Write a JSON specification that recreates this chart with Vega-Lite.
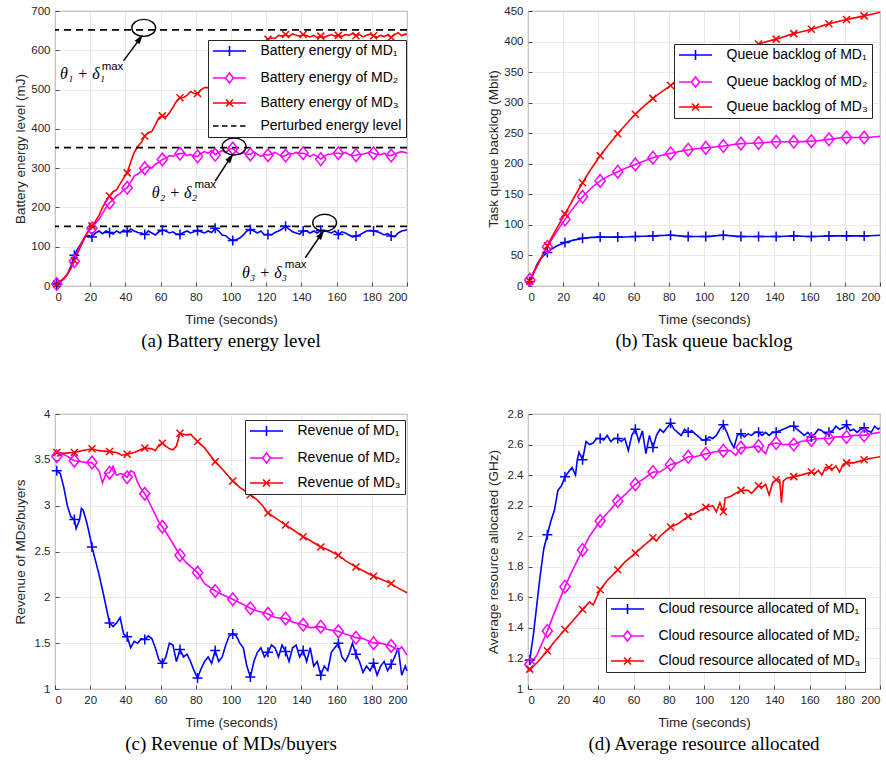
{
  "$schema": "https://vega.github.io/schema/vega-lite/v6.json",
  "background": "white",
  "padding": {"left": 12, "top": 4, "right": 4, "bottom": 4},
  "config": {
    "font": "Liberation Sans",
    "view": {"stroke": "#262626", "strokeWidth": 0.9},
    "axis": {"grid": true, "gridColor": "#e4e4e4", "gridWidth": 0.8, "domain": false, "ticks": true, "tickSize": -4, "tickColor": "#262626", "tickWidth": 0.8, "labelPadding": 9, "labelOverlap": false, "labelFont": "Liberation Sans", "labelFontSize": 11.5, "labelColor": "#262626", "titleFont": "Liberation Sans", "titleFontSize": 13.5, "titleFontWeight": "normal", "titleColor": "#262626"},
    "axisX": {"titlePadding": 10},
    "axisY": {"titlePadding": 3, "minExtent": 25, "maxExtent": 25},
    "legend": {"fillColor": "white", "strokeColor": "#262626", "padding": 4, "cornerRadius": 0, "labelFont": "Liberation Sans", "labelFontSize": 14, "labelColor": "black", "symbolSize": 100, "symbolStrokeWidth": 1.6, "symbolOffset": 10.5, "labelOffset": 24, "rowPadding": 9, "labelLimit": 400},
    "title": {"orient": "bottom", "anchor": "middle", "font": "Liberation Serif", "fontSize": 19, "fontWeight": "normal", "color": "black", "offset": 6}
  },
  "datasets": {
    "a": [
      {"s":"1","t":1,"v":5},{"s":"1","t":3,"v":12},{"s":"1","t":5,"v":18},{"s":"1","t":7,"v":30},{"s":"1","t":9,"v":50},{"s":"1","t":11,"v":78},{"s":"1","t":13,"v":95},{"s":"1","t":15,"v":110},{"s":"1","t":17,"v":125},{"s":"1","t":19,"v":128},
      {"s":"1","t":21,"v":125},{"s":"1","t":23,"v":135},{"s":"1","t":25,"v":140},{"s":"1","t":27,"v":133},{"s":"1","t":29,"v":140},{"s":"1","t":31,"v":136},{"s":"1","t":33,"v":132},{"s":"1","t":35,"v":140},{"s":"1","t":37,"v":135},{"s":"1","t":39,"v":142},
      {"s":"1","t":41,"v":138},{"s":"1","t":43,"v":145},{"s":"1","t":45,"v":140},{"s":"1","t":47,"v":136},{"s":"1","t":49,"v":135},{"s":"1","t":51,"v":131},{"s":"1","t":53,"v":140},{"s":"1","t":55,"v":135},{"s":"1","t":57,"v":130},{"s":"1","t":59,"v":138},
      {"s":"1","t":61,"v":142},{"s":"1","t":63,"v":140},{"s":"1","t":65,"v":135},{"s":"1","t":67,"v":138},{"s":"1","t":69,"v":132},{"s":"1","t":71,"v":131},{"s":"1","t":73,"v":136},{"s":"1","t":75,"v":140},{"s":"1","t":77,"v":135},{"s":"1","t":79,"v":138},
      {"s":"1","t":81,"v":141},{"s":"1","t":83,"v":138},{"s":"1","t":85,"v":135},{"s":"1","t":87,"v":140},{"s":"1","t":89,"v":136},{"s":"1","t":91,"v":147},{"s":"1","t":93,"v":140},{"s":"1","t":95,"v":130},{"s":"1","t":97,"v":128},{"s":"1","t":99,"v":120},
      {"s":"1","t":101,"v":116},{"s":"1","t":103,"v":118},{"s":"1","t":105,"v":122},{"s":"1","t":107,"v":130},{"s":"1","t":109,"v":140},{"s":"1","t":111,"v":144},{"s":"1","t":113,"v":140},{"s":"1","t":115,"v":135},{"s":"1","t":117,"v":140},{"s":"1","t":119,"v":130},
      {"s":"1","t":121,"v":131},{"s":"1","t":123,"v":130},{"s":"1","t":125,"v":136},{"s":"1","t":127,"v":140},{"s":"1","t":129,"v":145},{"s":"1","t":131,"v":152},{"s":"1","t":133,"v":145},{"s":"1","t":135,"v":138},{"s":"1","t":137,"v":135},{"s":"1","t":139,"v":132},
      {"s":"1","t":141,"v":140},{"s":"1","t":143,"v":140},{"s":"1","t":145,"v":135},{"s":"1","t":147,"v":140},{"s":"1","t":149,"v":135},{"s":"1","t":151,"v":141},{"s":"1","t":153,"v":142},{"s":"1","t":155,"v":138},{"s":"1","t":157,"v":135},{"s":"1","t":159,"v":140},
      {"s":"1","t":161,"v":131},{"s":"1","t":163,"v":138},{"s":"1","t":165,"v":135},{"s":"1","t":167,"v":130},{"s":"1","t":169,"v":125},{"s":"1","t":171,"v":127},{"s":"1","t":173,"v":130},{"s":"1","t":175,"v":135},{"s":"1","t":177,"v":140},{"s":"1","t":179,"v":142},
      {"s":"1","t":181,"v":140},{"s":"1","t":183,"v":138},{"s":"1","t":185,"v":135},{"s":"1","t":187,"v":130},{"s":"1","t":189,"v":133},{"s":"1","t":191,"v":127},{"s":"1","t":193,"v":125},{"s":"1","t":195,"v":135},{"s":"1","t":197,"v":140},{"s":"1","t":199,"v":142},{"s":"1","t":200,"v":143},
      {"s":"2","t":1,"v":5},{"s":"2","t":3,"v":10},{"s":"2","t":5,"v":18},{"s":"2","t":7,"v":30},{"s":"2","t":9,"v":45},{"s":"2","t":11,"v":63},{"s":"2","t":13,"v":90},{"s":"2","t":15,"v":108},{"s":"2","t":17,"v":125},{"s":"2","t":19,"v":140},
      {"s":"2","t":21,"v":147},{"s":"2","t":23,"v":160},{"s":"2","t":25,"v":170},{"s":"2","t":27,"v":185},{"s":"2","t":29,"v":200},{"s":"2","t":31,"v":212},{"s":"2","t":33,"v":220},{"s":"2","t":35,"v":230},{"s":"2","t":37,"v":235},{"s":"2","t":39,"v":245},
      {"s":"2","t":41,"v":250},{"s":"2","t":43,"v":265},{"s":"2","t":45,"v":280},{"s":"2","t":47,"v":285},{"s":"2","t":49,"v":292},{"s":"2","t":51,"v":300},{"s":"2","t":53,"v":305},{"s":"2","t":55,"v":300},{"s":"2","t":57,"v":310},{"s":"2","t":59,"v":315},
      {"s":"2","t":61,"v":322},{"s":"2","t":63,"v":325},{"s":"2","t":65,"v":332},{"s":"2","t":67,"v":330},{"s":"2","t":69,"v":335},{"s":"2","t":71,"v":337},{"s":"2","t":73,"v":338},{"s":"2","t":75,"v":332},{"s":"2","t":77,"v":335},{"s":"2","t":79,"v":330},
      {"s":"2","t":81,"v":330},{"s":"2","t":83,"v":338},{"s":"2","t":85,"v":342},{"s":"2","t":87,"v":338},{"s":"2","t":89,"v":345},{"s":"2","t":91,"v":334},{"s":"2","t":93,"v":340},{"s":"2","t":95,"v":345},{"s":"2","t":97,"v":340},{"s":"2","t":99,"v":348},
      {"s":"2","t":101,"v":350},{"s":"2","t":103,"v":342},{"s":"2","t":105,"v":335},{"s":"2","t":107,"v":340},{"s":"2","t":109,"v":336},{"s":"2","t":111,"v":335},{"s":"2","t":113,"v":342},{"s":"2","t":115,"v":335},{"s":"2","t":117,"v":330},{"s":"2","t":119,"v":335},
      {"s":"2","t":121,"v":333},{"s":"2","t":123,"v":336},{"s":"2","t":125,"v":340},{"s":"2","t":127,"v":335},{"s":"2","t":129,"v":330},{"s":"2","t":131,"v":332},{"s":"2","t":133,"v":338},{"s":"2","t":135,"v":336},{"s":"2","t":137,"v":340},{"s":"2","t":139,"v":338},
      {"s":"2","t":141,"v":338},{"s":"2","t":143,"v":335},{"s":"2","t":145,"v":330},{"s":"2","t":147,"v":335},{"s":"2","t":149,"v":330},{"s":"2","t":151,"v":323},{"s":"2","t":153,"v":330},{"s":"2","t":155,"v":335},{"s":"2","t":157,"v":336},{"s":"2","t":159,"v":338},
      {"s":"2","t":161,"v":338},{"s":"2","t":163,"v":336},{"s":"2","t":165,"v":340},{"s":"2","t":167,"v":335},{"s":"2","t":169,"v":332},{"s":"2","t":171,"v":333},{"s":"2","t":173,"v":335},{"s":"2","t":175,"v":336},{"s":"2","t":177,"v":338},{"s":"2","t":179,"v":342},
      {"s":"2","t":181,"v":338},{"s":"2","t":183,"v":335},{"s":"2","t":185,"v":334},{"s":"2","t":187,"v":338},{"s":"2","t":189,"v":333},{"s":"2","t":191,"v":332},{"s":"2","t":193,"v":336},{"s":"2","t":195,"v":340},{"s":"2","t":197,"v":342},{"s":"2","t":199,"v":340},{"s":"2","t":200,"v":338},
      {"s":"3","t":1,"v":5},{"s":"3","t":3,"v":12},{"s":"3","t":5,"v":20},{"s":"3","t":7,"v":30},{"s":"3","t":9,"v":45},{"s":"3","t":11,"v":65},{"s":"3","t":13,"v":85},{"s":"3","t":15,"v":105},{"s":"3","t":17,"v":125},{"s":"3","t":19,"v":140},
      {"s":"3","t":21,"v":153},{"s":"3","t":23,"v":165},{"s":"3","t":25,"v":180},{"s":"3","t":27,"v":200},{"s":"3","t":29,"v":215},{"s":"3","t":31,"v":229},{"s":"3","t":33,"v":240},{"s":"3","t":35,"v":245},{"s":"3","t":37,"v":260},{"s":"3","t":39,"v":275},
      {"s":"3","t":41,"v":288},{"s":"3","t":43,"v":315},{"s":"3","t":45,"v":340},{"s":"3","t":47,"v":355},{"s":"3","t":49,"v":365},{"s":"3","t":51,"v":382},{"s":"3","t":53,"v":390},{"s":"3","t":55,"v":393},{"s":"3","t":57,"v":410},{"s":"3","t":59,"v":428},
      {"s":"3","t":61,"v":433},{"s":"3","t":63,"v":430},{"s":"3","t":65,"v":440},{"s":"3","t":67,"v":455},{"s":"3","t":69,"v":470},{"s":"3","t":71,"v":479},{"s":"3","t":73,"v":480},{"s":"3","t":75,"v":485},{"s":"3","t":77,"v":495},{"s":"3","t":79,"v":490},
      {"s":"3","t":81,"v":490},{"s":"3","t":83,"v":500},{"s":"3","t":85,"v":505},{"s":"3","t":87,"v":505},{"s":"3","t":89,"v":510},{"s":"3","t":91,"v":515},{"s":"3","t":93,"v":520},{"s":"3","t":95,"v":528},{"s":"3","t":97,"v":535},{"s":"3","t":99,"v":545},
      {"s":"3","t":101,"v":552},{"s":"3","t":103,"v":560},{"s":"3","t":105,"v":568},{"s":"3","t":107,"v":578},{"s":"3","t":109,"v":585},{"s":"3","t":111,"v":592},{"s":"3","t":113,"v":600},{"s":"3","t":115,"v":608},{"s":"3","t":117,"v":615},{"s":"3","t":119,"v":622},
      {"s":"3","t":121,"v":628},{"s":"3","t":123,"v":632},{"s":"3","t":125,"v":630},{"s":"3","t":127,"v":638},{"s":"3","t":129,"v":636},{"s":"3","t":131,"v":640},{"s":"3","t":133,"v":635},{"s":"3","t":135,"v":642},{"s":"3","t":137,"v":638},{"s":"3","t":139,"v":636},
      {"s":"3","t":141,"v":640},{"s":"3","t":143,"v":637},{"s":"3","t":145,"v":634},{"s":"3","t":147,"v":638},{"s":"3","t":149,"v":632},{"s":"3","t":151,"v":636},{"s":"3","t":153,"v":633},{"s":"3","t":155,"v":637},{"s":"3","t":157,"v":640},{"s":"3","t":159,"v":636},
      {"s":"3","t":161,"v":638},{"s":"3","t":163,"v":635},{"s":"3","t":165,"v":640},{"s":"3","t":167,"v":638},{"s":"3","t":169,"v":643},{"s":"3","t":171,"v":637},{"s":"3","t":173,"v":640},{"s":"3","t":175,"v":634},{"s":"3","t":177,"v":638},{"s":"3","t":179,"v":641},
      {"s":"3","t":181,"v":637},{"s":"3","t":183,"v":633},{"s":"3","t":185,"v":638},{"s":"3","t":187,"v":635},{"s":"3","t":189,"v":639},{"s":"3","t":191,"v":633},{"s":"3","t":193,"v":640},{"s":"3","t":195,"v":645},{"s":"3","t":197,"v":637},{"s":"3","t":199,"v":641},{"s":"3","t":200,"v":640}
    ],
    "b": [
      {"s":"1","t":1,"v":7},{"s":"1","t":6,"v":40},{"s":"1","t":11,"v":55},{"s":"1","t":16,"v":65},{"s":"1","t":21,"v":71},{"s":"1","t":31,"v":78},{"s":"1","t":41,"v":80},{"s":"1","t":51,"v":80},{"s":"1","t":61,"v":81},{"s":"1","t":71,"v":82},{"s":"1","t":81,"v":83},{"s":"1","t":91,"v":81},{"s":"1","t":101,"v":81},{"s":"1","t":111,"v":83},{"s":"1","t":121,"v":81},{"s":"1","t":131,"v":81},{"s":"1","t":141,"v":81},{"s":"1","t":151,"v":82},{"s":"1","t":161,"v":81},{"s":"1","t":171,"v":82},{"s":"1","t":181,"v":82},{"s":"1","t":191,"v":82},{"s":"1","t":200,"v":83},
      {"s":"2","t":1,"v":10},{"s":"2","t":11,"v":64},{"s":"2","t":21,"v":109},{"s":"2","t":31,"v":146},{"s":"2","t":41,"v":172},{"s":"2","t":51,"v":187},{"s":"2","t":61,"v":199},{"s":"2","t":71,"v":210},{"s":"2","t":81,"v":217},{"s":"2","t":91,"v":223},{"s":"2","t":101,"v":226},{"s":"2","t":111,"v":229},{"s":"2","t":121,"v":233},{"s":"2","t":131,"v":234},{"s":"2","t":141,"v":236},{"s":"2","t":151,"v":236},{"s":"2","t":161,"v":237},{"s":"2","t":171,"v":240},{"s":"2","t":181,"v":243},{"s":"2","t":191,"v":243},{"s":"2","t":200,"v":245},
      {"s":"3","t":1,"v":8},{"s":"3","t":11,"v":66},{"s":"3","t":21,"v":118},{"s":"3","t":31,"v":169},{"s":"3","t":41,"v":213},{"s":"3","t":51,"v":249},{"s":"3","t":61,"v":281},{"s":"3","t":71,"v":307},{"s":"3","t":81,"v":328},{"s":"3","t":91,"v":345},{"s":"3","t":101,"v":360},{"s":"3","t":111,"v":373},{"s":"3","t":121,"v":385},{"s":"3","t":131,"v":396},{"s":"3","t":141,"v":404},{"s":"3","t":151,"v":413},{"s":"3","t":161,"v":420},{"s":"3","t":171,"v":429},{"s":"3","t":181,"v":436},{"s":"3","t":191,"v":442},{"s":"3","t":200,"v":448}
    ],
    "c": [
      {"s":"1","t":1,"v":3.38},{"s":"1","t":3,"v":3.35},{"s":"1","t":5,"v":3.2},{"s":"1","t":7,"v":3.0},{"s":"1","t":9,"v":2.88},{"s":"1","t":11,"v":2.85},{"s":"1","t":12,"v":2.75},{"s":"1","t":13,"v":2.8},{"s":"1","t":14,"v":2.85},{"s":"1","t":15,"v":2.97},{"s":"1","t":16,"v":2.95},{"s":"1","t":18,"v":2.82},{"s":"1","t":20,"v":2.65},
      {"s":"1","t":21,"v":2.55},{"s":"1","t":23,"v":2.4},{"s":"1","t":25,"v":2.25},{"s":"1","t":27,"v":2.08},{"s":"1","t":29,"v":1.9},{"s":"1","t":31,"v":1.72},{"s":"1","t":33,"v":1.68},{"s":"1","t":35,"v":1.72},{"s":"1","t":37,"v":1.78},{"s":"1","t":39,"v":1.6},
      {"s":"1","t":41,"v":1.57},{"s":"1","t":43,"v":1.45},{"s":"1","t":45,"v":1.52},{"s":"1","t":47,"v":1.5},{"s":"1","t":49,"v":1.55},{"s":"1","t":51,"v":1.54},{"s":"1","t":53,"v":1.58},{"s":"1","t":55,"v":1.55},{"s":"1","t":57,"v":1.45},{"s":"1","t":59,"v":1.32},
      {"s":"1","t":61,"v":1.28},{"s":"1","t":63,"v":1.35},{"s":"1","t":65,"v":1.5},{"s":"1","t":67,"v":1.48},{"s":"1","t":69,"v":1.3},{"s":"1","t":71,"v":1.43},{"s":"1","t":73,"v":1.35},{"s":"1","t":75,"v":1.38},{"s":"1","t":77,"v":1.3},{"s":"1","t":79,"v":1.2},
      {"s":"1","t":81,"v":1.12},{"s":"1","t":83,"v":1.22},{"s":"1","t":85,"v":1.3},{"s":"1","t":87,"v":1.35},{"s":"1","t":89,"v":1.28},{"s":"1","t":91,"v":1.42},{"s":"1","t":93,"v":1.3},{"s":"1","t":95,"v":1.35},{"s":"1","t":97,"v":1.48},{"s":"1","t":99,"v":1.58},
      {"s":"1","t":101,"v":1.6},{"s":"1","t":103,"v":1.58},{"s":"1","t":105,"v":1.5},{"s":"1","t":107,"v":1.45},{"s":"1","t":109,"v":1.25},{"s":"1","t":111,"v":1.13},{"s":"1","t":113,"v":1.3},{"s":"1","t":115,"v":1.4},{"s":"1","t":117,"v":1.45},{"s":"1","t":119,"v":1.35},
      {"s":"1","t":121,"v":1.4},{"s":"1","t":123,"v":1.48},{"s":"1","t":125,"v":1.45},{"s":"1","t":127,"v":1.35},{"s":"1","t":129,"v":1.48},{"s":"1","t":131,"v":1.41},{"s":"1","t":133,"v":1.3},{"s":"1","t":135,"v":1.45},{"s":"1","t":137,"v":1.48},{"s":"1","t":139,"v":1.35},
      {"s":"1","t":141,"v":1.42},{"s":"1","t":143,"v":1.3},{"s":"1","t":145,"v":1.45},{"s":"1","t":147,"v":1.25},{"s":"1","t":149,"v":1.3},{"s":"1","t":151,"v":1.15},{"s":"1","t":153,"v":1.25},{"s":"1","t":155,"v":1.2},{"s":"1","t":157,"v":1.4},{"s":"1","t":159,"v":1.45},
      {"s":"1","t":161,"v":1.5},{"s":"1","t":163,"v":1.35},{"s":"1","t":165,"v":1.3},{"s":"1","t":167,"v":1.38},{"s":"1","t":169,"v":1.5},{"s":"1","t":171,"v":1.38},{"s":"1","t":173,"v":1.3},{"s":"1","t":175,"v":1.18},{"s":"1","t":177,"v":1.25},{"s":"1","t":179,"v":1.2},
      {"s":"1","t":181,"v":1.28},{"s":"1","t":183,"v":1.15},{"s":"1","t":185,"v":1.25},{"s":"1","t":187,"v":1.3},{"s":"1","t":189,"v":1.2},{"s":"1","t":191,"v":1.27},{"s":"1","t":193,"v":1.35},{"s":"1","t":195,"v":1.45},{"s":"1","t":197,"v":1.15},{"s":"1","t":199,"v":1.25},{"s":"1","t":200,"v":1.2},
      {"s":"2","t":1,"v":3.54},{"s":"2","t":5,"v":3.56},{"s":"2","t":11,"v":3.49},{"s":"2","t":15,"v":3.48},{"s":"2","t":18,"v":3.47},{"s":"2","t":21,"v":3.47},{"s":"2","t":25,"v":3.38},{"s":"2","t":27,"v":3.25},{"s":"2","t":29,"v":3.35},{"s":"2","t":31,"v":3.36},{"s":"2","t":33,"v":3.43},{"s":"2","t":35,"v":3.33},{"s":"2","t":37,"v":3.35},{"s":"2","t":39,"v":3.34},
      {"s":"2","t":41,"v":3.31},{"s":"2","t":43,"v":3.38},{"s":"2","t":45,"v":3.36},{"s":"2","t":47,"v":3.25},{"s":"2","t":49,"v":3.18},{"s":"2","t":51,"v":3.13},{"s":"2","t":55,"v":2.98},{"s":"2","t":59,"v":2.82},{"s":"2","t":61,"v":2.77},{"s":"2","t":65,"v":2.65},{"s":"2","t":71,"v":2.46},{"s":"2","t":75,"v":2.37},
      {"s":"2","t":81,"v":2.27},{"s":"2","t":85,"v":2.15},{"s":"2","t":91,"v":2.07},{"s":"2","t":95,"v":2.03},{"s":"2","t":101,"v":1.98},{"s":"2","t":105,"v":1.94},{"s":"2","t":111,"v":1.88},{"s":"2","t":115,"v":1.85},{"s":"2","t":121,"v":1.82},{"s":"2","t":125,"v":1.78},{"s":"2","t":131,"v":1.77},{"s":"2","t":135,"v":1.73},
      {"s":"2","t":141,"v":1.7},{"s":"2","t":145,"v":1.67},{"s":"2","t":151,"v":1.68},{"s":"2","t":155,"v":1.65},{"s":"2","t":161,"v":1.63},{"s":"2","t":165,"v":1.6},{"s":"2","t":171,"v":1.56},{"s":"2","t":175,"v":1.55},{"s":"2","t":181,"v":1.5},{"s":"2","t":185,"v":1.5},{"s":"2","t":191,"v":1.47},{"s":"2","t":195,"v":1.42},{"s":"2","t":197,"v":1.46},{"s":"2","t":200,"v":1.37},
      {"s":"3","t":1,"v":3.58},{"s":"3","t":5,"v":3.57},{"s":"3","t":11,"v":3.58},{"s":"3","t":15,"v":3.6},{"s":"3","t":21,"v":3.62},{"s":"3","t":25,"v":3.6},{"s":"3","t":31,"v":3.59},{"s":"3","t":35,"v":3.58},{"s":"3","t":38,"v":3.55},{"s":"3","t":41,"v":3.56},{"s":"3","t":45,"v":3.58},
      {"s":"3","t":51,"v":3.63},{"s":"3","t":55,"v":3.62},{"s":"3","t":57,"v":3.6},{"s":"3","t":59,"v":3.66},{"s":"3","t":61,"v":3.68},{"s":"3","t":65,"v":3.62},{"s":"3","t":67,"v":3.61},{"s":"3","t":69,"v":3.65},{"s":"3","t":71,"v":3.79},{"s":"3","t":73,"v":3.78},{"s":"3","t":75,"v":3.77},{"s":"3","t":77,"v":3.78},
      {"s":"3","t":81,"v":3.7},{"s":"3","t":85,"v":3.63},{"s":"3","t":91,"v":3.48},{"s":"3","t":95,"v":3.4},{"s":"3","t":101,"v":3.27},{"s":"3","t":105,"v":3.2},{"s":"3","t":111,"v":3.12},{"s":"3","t":115,"v":3.06},{"s":"3","t":118,"v":3.0},{"s":"3","t":121,"v":2.92},{"s":"3","t":125,"v":2.87},
      {"s":"3","t":131,"v":2.79},{"s":"3","t":135,"v":2.74},{"s":"3","t":141,"v":2.66},{"s":"3","t":145,"v":2.62},{"s":"3","t":151,"v":2.55},{"s":"3","t":155,"v":2.52},{"s":"3","t":161,"v":2.46},{"s":"3","t":165,"v":2.4},{"s":"3","t":171,"v":2.33},{"s":"3","t":175,"v":2.29},{"s":"3","t":181,"v":2.23},{"s":"3","t":185,"v":2.2},{"s":"3","t":191,"v":2.15},{"s":"3","t":195,"v":2.1},{"s":"3","t":200,"v":2.05}
    ],
    "d": [
      {"s":"1","t":1,"v":1.19},{"s":"1","t":3,"v":1.35},{"s":"1","t":5,"v":1.55},{"s":"1","t":7,"v":1.75},{"s":"1","t":9,"v":1.92},{"s":"1","t":11,"v":2.01},{"s":"1","t":13,"v":2.1},{"s":"1","t":15,"v":2.17},{"s":"1","t":17,"v":2.3},{"s":"1","t":19,"v":2.33},
      {"s":"1","t":21,"v":2.39},{"s":"1","t":23,"v":2.42},{"s":"1","t":25,"v":2.45},{"s":"1","t":27,"v":2.4},{"s":"1","t":28,"v":2.5},{"s":"1","t":29,"v":2.55},{"s":"1","t":31,"v":2.5},{"s":"1","t":33,"v":2.62},{"s":"1","t":35,"v":2.6},{"s":"1","t":37,"v":2.61},{"s":"1","t":39,"v":2.64},
      {"s":"1","t":41,"v":2.64},{"s":"1","t":43,"v":2.63},{"s":"1","t":45,"v":2.66},{"s":"1","t":47,"v":2.62},{"s":"1","t":49,"v":2.64},{"s":"1","t":51,"v":2.64},{"s":"1","t":53,"v":2.62},{"s":"1","t":55,"v":2.64},{"s":"1","t":57,"v":2.56},{"s":"1","t":59,"v":2.66},
      {"s":"1","t":61,"v":2.7},{"s":"1","t":63,"v":2.62},{"s":"1","t":65,"v":2.69},{"s":"1","t":67,"v":2.54},{"s":"1","t":69,"v":2.66},{"s":"1","t":71,"v":2.58},{"s":"1","t":73,"v":2.66},{"s":"1","t":75,"v":2.7},{"s":"1","t":77,"v":2.68},{"s":"1","t":79,"v":2.71},
      {"s":"1","t":81,"v":2.74},{"s":"1","t":83,"v":2.7},{"s":"1","t":85,"v":2.68},{"s":"1","t":87,"v":2.66},{"s":"1","t":89,"v":2.7},{"s":"1","t":91,"v":2.68},{"s":"1","t":93,"v":2.69},{"s":"1","t":95,"v":2.67},{"s":"1","t":97,"v":2.65},{"s":"1","t":99,"v":2.63},
      {"s":"1","t":101,"v":2.63},{"s":"1","t":103,"v":2.65},{"s":"1","t":105,"v":2.64},{"s":"1","t":107,"v":2.66},{"s":"1","t":109,"v":2.7},{"s":"1","t":111,"v":2.73},{"s":"1","t":113,"v":2.68},{"s":"1","t":115,"v":2.62},{"s":"1","t":117,"v":2.58},{"s":"1","t":119,"v":2.66},
      {"s":"1","t":121,"v":2.67},{"s":"1","t":123,"v":2.65},{"s":"1","t":125,"v":2.67},{"s":"1","t":127,"v":2.66},{"s":"1","t":129,"v":2.68},{"s":"1","t":131,"v":2.68},{"s":"1","t":133,"v":2.66},{"s":"1","t":135,"v":2.68},{"s":"1","t":137,"v":2.66},{"s":"1","t":139,"v":2.68},
      {"s":"1","t":141,"v":2.68},{"s":"1","t":143,"v":2.69},{"s":"1","t":145,"v":2.7},{"s":"1","t":147,"v":2.71},{"s":"1","t":149,"v":2.72},{"s":"1","t":151,"v":2.72},{"s":"1","t":153,"v":2.7},{"s":"1","t":155,"v":2.68},{"s":"1","t":157,"v":2.66},{"s":"1","t":159,"v":2.68},
      {"s":"1","t":161,"v":2.65},{"s":"1","t":163,"v":2.67},{"s":"1","t":165,"v":2.7},{"s":"1","t":167,"v":2.69},{"s":"1","t":169,"v":2.67},{"s":"1","t":171,"v":2.68},{"s":"1","t":173,"v":2.69},{"s":"1","t":175,"v":2.72},{"s":"1","t":177,"v":2.7},{"s":"1","t":179,"v":2.71},
      {"s":"1","t":181,"v":2.73},{"s":"1","t":183,"v":2.69},{"s":"1","t":185,"v":2.7},{"s":"1","t":187,"v":2.68},{"s":"1","t":189,"v":2.7},{"s":"1","t":191,"v":2.71},{"s":"1","t":193,"v":2.69},{"s":"1","t":195,"v":2.68},{"s":"1","t":197,"v":2.72},{"s":"1","t":199,"v":2.7},{"s":"1","t":200,"v":2.71},
      {"s":"2","t":1,"v":1.16},{"s":"2","t":5,"v":1.22},{"s":"2","t":11,"v":1.38},{"s":"2","t":15,"v":1.5},{"s":"2","t":21,"v":1.67},{"s":"2","t":25,"v":1.77},{"s":"2","t":31,"v":1.91},{"s":"2","t":35,"v":2.0},{"s":"2","t":41,"v":2.1},{"s":"2","t":45,"v":2.15},{"s":"2","t":51,"v":2.23},{"s":"2","t":55,"v":2.27},
      {"s":"2","t":61,"v":2.34},{"s":"2","t":65,"v":2.37},{"s":"2","t":71,"v":2.42},{"s":"2","t":75,"v":2.42},{"s":"2","t":81,"v":2.47},{"s":"2","t":85,"v":2.48},{"s":"2","t":91,"v":2.52},{"s":"2","t":95,"v":2.52},{"s":"2","t":101,"v":2.54},{"s":"2","t":105,"v":2.55},{"s":"2","t":111,"v":2.56},{"s":"2","t":115,"v":2.56},{"s":"2","t":118,"v":2.53},
      {"s":"2","t":121,"v":2.58},{"s":"2","t":125,"v":2.58},{"s":"2","t":131,"v":2.59},{"s":"2","t":135,"v":2.54},{"s":"2","t":137,"v":2.6},{"s":"2","t":141,"v":2.61},{"s":"2","t":145,"v":2.6},{"s":"2","t":151,"v":2.6},{"s":"2","t":155,"v":2.62},{"s":"2","t":161,"v":2.63},{"s":"2","t":165,"v":2.64},
      {"s":"2","t":171,"v":2.64},{"s":"2","t":175,"v":2.65},{"s":"2","t":181,"v":2.65},{"s":"2","t":185,"v":2.66},{"s":"2","t":191,"v":2.66},{"s":"2","t":195,"v":2.67},{"s":"2","t":200,"v":2.68},
      {"s":"3","t":1,"v":1.13},{"s":"3","t":5,"v":1.17},{"s":"3","t":11,"v":1.25},{"s":"3","t":15,"v":1.31},{"s":"3","t":21,"v":1.39},{"s":"3","t":25,"v":1.44},{"s":"3","t":31,"v":1.52},{"s":"3","t":35,"v":1.57},{"s":"3","t":37,"v":1.55},{"s":"3","t":41,"v":1.65},{"s":"3","t":45,"v":1.71},
      {"s":"3","t":51,"v":1.78},{"s":"3","t":55,"v":1.83},{"s":"3","t":61,"v":1.89},{"s":"3","t":65,"v":1.93},{"s":"3","t":71,"v":1.99},{"s":"3","t":73,"v":1.97},{"s":"3","t":75,"v":2.0},{"s":"3","t":81,"v":2.06},{"s":"3","t":85,"v":2.08},{"s":"3","t":91,"v":2.13},{"s":"3","t":95,"v":2.15},
      {"s":"3","t":101,"v":2.19},{"s":"3","t":105,"v":2.2},{"s":"3","t":107,"v":2.16},{"s":"3","t":109,"v":2.22},{"s":"3","t":111,"v":2.16},{"s":"3","t":112,"v":2.25},{"s":"3","t":115,"v":2.26},{"s":"3","t":121,"v":2.3},{"s":"3","t":125,"v":2.3},{"s":"3","t":127,"v":2.28},
      {"s":"3","t":131,"v":2.33},{"s":"3","t":133,"v":2.32},{"s":"3","t":135,"v":2.34},{"s":"3","t":137,"v":2.27},{"s":"3","t":139,"v":2.35},{"s":"3","t":141,"v":2.37},{"s":"3","t":143,"v":2.37},{"s":"3","t":144,"v":2.22},{"s":"3","t":145,"v":2.36},{"s":"3","t":147,"v":2.38},
      {"s":"3","t":151,"v":2.39},{"s":"3","t":155,"v":2.4},{"s":"3","t":161,"v":2.42},{"s":"3","t":163,"v":2.41},{"s":"3","t":165,"v":2.43},{"s":"3","t":167,"v":2.4},{"s":"3","t":169,"v":2.45},{"s":"3","t":171,"v":2.45},{"s":"3","t":173,"v":2.44},{"s":"3","t":175,"v":2.46},
      {"s":"3","t":177,"v":2.42},{"s":"3","t":179,"v":2.47},{"s":"3","t":181,"v":2.48},{"s":"3","t":185,"v":2.48},{"s":"3","t":191,"v":2.5},{"s":"3","t":195,"v":2.51},{"s":"3","t":200,"v":2.52}
    ]
  },
  "resolve": {"scale": {"color": "independent", "x": "independent", "y": "independent"}, "legend": {"color": "independent"}},
  "columns": 2,
  "spacing": {"row": 128, "column": 121},
  "bounds": "flush",
  "concat": [
    {
      "width": 352, "height": 275,
      "title": {"text": "(a) Battery energy level"},
      "layer": [
        {"data": {"name": "a"}, "mark": {"type": "line", "strokeWidth": 1.6},
         "encoding": {
           "x": {"field": "t", "type": "quantitative", "scale": {"domain": [0, 200], "nice": false}, "axis": {"values": [0,20,40,60,80,100,120,140,160,180,200], "tickCount": 30, "labelOverlap": false, "title": "Time (seconds)"}},
           "y": {"field": "v", "type": "quantitative", "scale": {"domain": [0, 700], "nice": false}, "axis": {"values": [0,100,200,300,400,500,600,700], "tickCount": 30, "labelOverlap": false, "title": "Battery energy level (mJ)"}},
           "color": {"field": "s", "type": "nominal", "scale": {"domain": ["1","2","3","4"], "range": ["#0000ff","#ff00ff","#ff0000","#000000"]},
             "legend": {"title": null, "orient": "none", "legendX": 153, "legendY": 29,
               "labelExpr": "datum.value=='4' ? 'Perturbed energy level' : 'Battery energy of MD' + (datum.value=='1' ? '₁' : datum.value=='2' ? '₂' : '₃')",
               "encode": {"symbols": {"update": {"fill": {"value": "transparent"}, "shape": {"signal": "datum.value=='1' ? 'M-3.3,0L3.3,0M0,-1L0,1' : datum.value=='2' ? 'M-3.3,0L-0.8,0M0.8,0L3.3,0M-0.8,0L0,-1L0.8,0L0,1Z' : datum.value=='3' ? 'M-3.3,0L3.3,0M-0.7,-0.7L0.7,0.7M-0.7,0.7L0.7,-0.7' : 'M-3.3,0L-2.2,0M-1.5,0L-0.4,0M0.3,0L1.4,0M2.1,0L3.2,0'"}}}}}}
         }},
        {"data": {"values": [{"s":"4","v":652},{"s":"4","v":352},{"s":"4","v":152}]},
         "mark": {"type": "rule", "strokeDash": [7, 5], "strokeWidth": 1.8},
         "encoding": {"y": {"field": "v", "type": "quantitative"}, "color": {"field": "s", "type": "nominal"}}},
        {"data": {"name": "a"}, "transform": [{"filter": "datum.s=='1' && (datum.t-1)%10==0"}],
         "mark": {"type": "point", "shape": "M-1,0L1,0M0,-1L0,1", "size": 100, "filled": false, "color": "#0000ff", "strokeWidth": 1.5, "opacity": 1},
         "encoding": {"x": {"field": "t", "type": "quantitative"}, "y": {"field": "v", "type": "quantitative"}}},
        {"data": {"name": "a"}, "transform": [{"filter": "datum.s=='2' && (datum.t-1)%10==0"}],
         "mark": {"type": "point", "shape": "M-0.8,0L0,-1L0.8,0L0,1Z", "size": 160, "filled": false, "color": "#ff00ff", "strokeWidth": 1.5, "opacity": 1},
         "encoding": {"x": {"field": "t", "type": "quantitative"}, "y": {"field": "v", "type": "quantitative"}}},
        {"data": {"name": "a"}, "transform": [{"filter": "datum.s=='3' && (datum.t-1)%10==0"}],
         "mark": {"type": "point", "shape": "M-1,-1L1,1M-1,1L1,-1", "size": 49, "filled": false, "color": "#ff0000", "strokeWidth": 1.5, "opacity": 1},
         "encoding": {"x": {"field": "t", "type": "quantitative"}, "y": {"field": "v", "type": "quantitative"}}},
        {"data": {"values": [{"t":50.4,"v":657},{"t":101.8,"v":355},{"t":153.2,"v":161}]},
         "mark": {"type": "point", "shape": "M-1.4,0A1.4,1,0,1,0,1.4,0A1.4,1,0,1,0,-1.4,0Z", "size": 289, "filled": false, "color": "black", "strokeWidth": 1.4, "opacity": 1},
         "encoding": {"x": {"field": "t", "type": "quantitative"}, "y": {"field": "v", "type": "quantitative"}}},
        {"data": {"values": [{"t":38.9,"v":573,"t2":48.2,"v2":629},{"t":91,"v":267,"t2":99.6,"v2":326},{"t":142.2,"v":72,"t2":151.2,"v2":131}]},
         "mark": {"type": "rule", "color": "black", "strokeWidth": 1.5},
         "encoding": {"x": {"field": "t", "type": "quantitative"}, "y": {"field": "v", "type": "quantitative"}, "x2": {"field": "t2"}, "y2": {"field": "v2"}}},
        {"data": {"values": [{"t":48.3,"v":630},{"t":99.8,"v":327},{"t":151.4,"v":132}]},
         "mark": {"type": "point", "shape": "M0,-1L0.6,1L-0.6,1Z", "size": 100, "filled": true, "color": "black", "angle": 36, "opacity": 1},
         "encoding": {"x": {"field": "t", "type": "quantitative"}, "y": {"field": "v", "type": "quantitative"}}},
        {"data": {"values": [{"t":2.8,"v":526,"label":"θ₁ + δ₁"},{"t":55,"v":223,"label":"θ₂ + δ₂"},{"t":106.2,"v":21,"label":"θ₃ + δ₃"}]},
         "mark": {"type": "text", "align": "left", "baseline": "alphabetic", "font": "Liberation Serif", "fontStyle": "italic", "fontSize": 16, "color": "black"},
         "encoding": {"x": {"field": "t", "type": "quantitative"}, "y": {"field": "v", "type": "quantitative"}, "text": {"field": "label"}}},
        {"data": {"values": [{"t":26.5,"v":551,"label":"max"},{"t":79.2,"v":249,"label":"max"},{"t":130.6,"v":47,"label":"max"}]},
         "mark": {"type": "text", "align": "left", "baseline": "alphabetic", "font": "Liberation Sans", "fontSize": 11.5, "color": "black"},
         "encoding": {"x": {"field": "t", "type": "quantitative"}, "y": {"field": "v", "type": "quantitative"}, "text": {"field": "label"}}}
      ]
    },
    {
      "width": 352, "height": 275,
      "title": {"text": "(b) Task queue backlog"},
      "data": {"name": "b"},
      "layer": [
        {"mark": {"type": "line", "strokeWidth": 1.6, "interpolate": "monotone"},
         "encoding": {
           "x": {"field": "t", "type": "quantitative", "scale": {"domain": [0, 200], "nice": false}, "axis": {"values": [0,20,40,60,80,100,120,140,160,180,200], "tickCount": 30, "labelOverlap": false, "title": "Time (seconds)"}},
           "y": {"field": "v", "type": "quantitative", "scale": {"domain": [0, 450], "nice": false}, "axis": {"values": [0,50,100,150,200,250,300,350,400,450], "tickCount": 30, "labelOverlap": false, "title": "Task queue backlog (Mbit)"}},
           "color": {"field": "s", "type": "nominal", "scale": {"domain": ["1","2","3"], "range": ["#0000ff","#ff00ff","#ff0000"]},
             "legend": {"title": null, "orient": "none", "legendX": 146, "legendY": 33,
               "labelExpr": "'Queue backlog of MD' + (datum.value=='1' ? '₁' : datum.value=='2' ? '₂' : '₃')",
               "encode": {"symbols": {"update": {"fill": {"value": "transparent"}, "shape": {"signal": "datum.value=='1' ? 'M-3.3,0L3.3,0M0,-1L0,1' : datum.value=='2' ? 'M-3.3,0L-0.8,0M0.8,0L3.3,0M-0.8,0L0,-1L0.8,0L0,1Z' : 'M-3.3,0L3.3,0M-0.7,-0.7L0.7,0.7M-0.7,0.7L0.7,-0.7'"}}}}}}
         }},
        {"transform": [{"filter": "datum.s=='1' && (datum.t-1)%10==0"}],
         "mark": {"type": "point", "shape": "M-1,0L1,0M0,-1L0,1", "size": 100, "filled": false, "color": "#0000ff", "strokeWidth": 1.5, "opacity": 1},
         "encoding": {"x": {"field": "t", "type": "quantitative"}, "y": {"field": "v", "type": "quantitative"}}},
        {"transform": [{"filter": "datum.s=='2' && (datum.t-1)%10==0"}],
         "mark": {"type": "point", "shape": "M-0.8,0L0,-1L0.8,0L0,1Z", "size": 160, "filled": false, "color": "#ff00ff", "strokeWidth": 1.5, "opacity": 1},
         "encoding": {"x": {"field": "t", "type": "quantitative"}, "y": {"field": "v", "type": "quantitative"}}},
        {"transform": [{"filter": "datum.s=='3' && (datum.t-1)%10==0"}],
         "mark": {"type": "point", "shape": "M-1,-1L1,1M-1,1L1,-1", "size": 49, "filled": false, "color": "#ff0000", "strokeWidth": 1.5, "opacity": 1},
         "encoding": {"x": {"field": "t", "type": "quantitative"}, "y": {"field": "v", "type": "quantitative"}}}
      ]
    },
    {
      "width": 352, "height": 275,
      "title": {"text": "(c) Revenue of MDs/buyers"},
      "data": {"name": "c"},
      "layer": [
        {"mark": {"type": "line", "strokeWidth": 1.6},
         "encoding": {
           "x": {"field": "t", "type": "quantitative", "scale": {"domain": [0, 200], "nice": false}, "axis": {"values": [0,20,40,60,80,100,120,140,160,180,200], "tickCount": 30, "labelOverlap": false, "title": "Time (seconds)"}},
           "y": {"field": "v", "type": "quantitative", "scale": {"domain": [1, 4], "nice": false}, "axis": {"values": [1,1.5,2,2.5,3,3.5,4], "tickCount": 30, "format": "~g", "labelOverlap": false, "title": "Revenue of MDs/buyers"}},
           "color": {"field": "s", "type": "nominal", "scale": {"domain": ["1","2","3"], "range": ["#0000ff","#ff00ff","#ff0000"]},
             "legend": {"title": null, "orient": "none", "legendX": 190, "legendY": 6,
               "labelExpr": "'Revenue of MD' + (datum.value=='1' ? '₁' : datum.value=='2' ? '₂' : '₃')",
               "encode": {"symbols": {"update": {"fill": {"value": "transparent"}, "shape": {"signal": "datum.value=='1' ? 'M-3.3,0L3.3,0M0,-1L0,1' : datum.value=='2' ? 'M-3.3,0L-0.8,0M0.8,0L3.3,0M-0.8,0L0,-1L0.8,0L0,1Z' : 'M-3.3,0L3.3,0M-0.7,-0.7L0.7,0.7M-0.7,0.7L0.7,-0.7'"}}}}}}
         }},
        {"transform": [{"filter": "datum.s=='1' && (datum.t-1)%10==0"}],
         "mark": {"type": "point", "shape": "M-1,0L1,0M0,-1L0,1", "size": 100, "filled": false, "color": "#0000ff", "strokeWidth": 1.5, "opacity": 1},
         "encoding": {"x": {"field": "t", "type": "quantitative"}, "y": {"field": "v", "type": "quantitative"}}},
        {"transform": [{"filter": "datum.s=='2' && (datum.t-1)%10==0"}],
         "mark": {"type": "point", "shape": "M-0.8,0L0,-1L0.8,0L0,1Z", "size": 160, "filled": false, "color": "#ff00ff", "strokeWidth": 1.5, "opacity": 1},
         "encoding": {"x": {"field": "t", "type": "quantitative"}, "y": {"field": "v", "type": "quantitative"}}},
        {"transform": [{"filter": "datum.s=='3' && (datum.t-1)%10==0"}],
         "mark": {"type": "point", "shape": "M-1,-1L1,1M-1,1L1,-1", "size": 49, "filled": false, "color": "#ff0000", "strokeWidth": 1.5, "opacity": 1},
         "encoding": {"x": {"field": "t", "type": "quantitative"}, "y": {"field": "v", "type": "quantitative"}}}
      ]
    },
    {
      "width": 352, "height": 275,
      "title": {"text": "(d) Average resource allocated"},
      "data": {"name": "d"},
      "layer": [
        {"mark": {"type": "line", "strokeWidth": 1.6},
         "encoding": {
           "x": {"field": "t", "type": "quantitative", "scale": {"domain": [0, 200], "nice": false}, "axis": {"values": [0,20,40,60,80,100,120,140,160,180,200], "tickCount": 30, "labelOverlap": false, "title": "Time (seconds)"}},
           "y": {"field": "v", "type": "quantitative", "scale": {"domain": [1, 2.8], "nice": false}, "axis": {"values": [1,1.2,1.4,1.6,1.8,2,2.2,2.4,2.6,2.8], "tickCount": 30, "format": "~g", "labelOverlap": false, "title": "Average resource allocated (GHz)"}},
           "color": {"field": "s", "type": "nominal", "scale": {"domain": ["1","2","3"], "range": ["#0000ff","#ff00ff","#ff0000"]},
             "legend": {"title": null, "orient": "none", "legendX": 78, "legendY": 184,
               "labelExpr": "'Cloud resource allocated of MD' + (datum.value=='1' ? '₁' : datum.value=='2' ? '₂' : '₃')",
               "encode": {"symbols": {"update": {"fill": {"value": "transparent"}, "shape": {"signal": "datum.value=='1' ? 'M-3.3,0L3.3,0M0,-1L0,1' : datum.value=='2' ? 'M-3.3,0L-0.8,0M0.8,0L3.3,0M-0.8,0L0,-1L0.8,0L0,1Z' : 'M-3.3,0L3.3,0M-0.7,-0.7L0.7,0.7M-0.7,0.7L0.7,-0.7'"}}}}}}
         }},
        {"transform": [{"filter": "datum.s=='1' && (datum.t-1)%10==0"}],
         "mark": {"type": "point", "shape": "M-1,0L1,0M0,-1L0,1", "size": 100, "filled": false, "color": "#0000ff", "strokeWidth": 1.5, "opacity": 1},
         "encoding": {"x": {"field": "t", "type": "quantitative"}, "y": {"field": "v", "type": "quantitative"}}},
        {"transform": [{"filter": "datum.s=='2' && (datum.t-1)%10==0"}],
         "mark": {"type": "point", "shape": "M-0.8,0L0,-1L0.8,0L0,1Z", "size": 160, "filled": false, "color": "#ff00ff", "strokeWidth": 1.5, "opacity": 1},
         "encoding": {"x": {"field": "t", "type": "quantitative"}, "y": {"field": "v", "type": "quantitative"}}},
        {"transform": [{"filter": "datum.s=='3' && (datum.t-1)%10==0"}],
         "mark": {"type": "point", "shape": "M-1,-1L1,1M-1,1L1,-1", "size": 49, "filled": false, "color": "#ff0000", "strokeWidth": 1.5, "opacity": 1},
         "encoding": {"x": {"field": "t", "type": "quantitative"}, "y": {"field": "v", "type": "quantitative"}}}
      ]
    }
  ]
}
